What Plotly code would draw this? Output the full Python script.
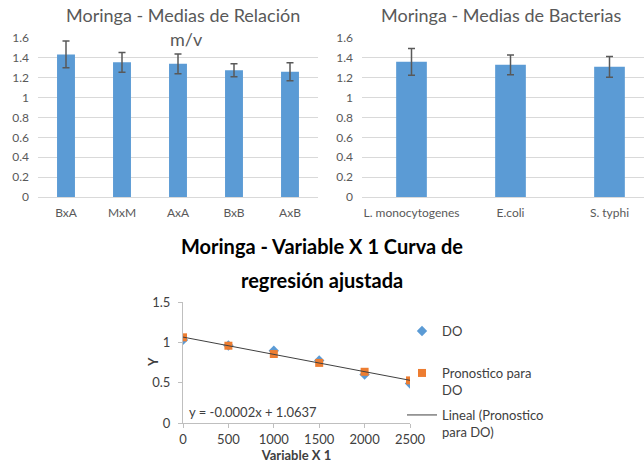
import plotly.graph_objects as go
import numpy as np

# --- data ---
rel_cats = ["BxA", "MxM", "AxA", "BxB", "AxB"]
rel_means = [1.435, 1.355, 1.34, 1.275, 1.26]
rel_err = [0.135, 0.10, 0.10, 0.065, 0.09]

bac_cats = ["L. monocytogenes", "E.coli", "S. typhi"]
bac_means = [1.36, 1.33, 1.31]
bac_err = [0.135, 0.10, 0.105]

reg_x = [0, 500, 1000, 1500, 2000, 2500]
do_y = [1.03, 0.96, 0.895, 0.775, 0.60, 0.49]
pron_y = [1.062, 0.958, 0.855, 0.745, 0.635, 0.528]

BLUE = "#5B9BD5"
ORANGE = "#ED7D31"
GRAY = "#595959"
DARK = "#404040"
GRID = "#D9D9D9"
FONT = "Lato, Liberation Sans, sans-serif"

W, H = 644, 466
def px(x): return x / W
def py(y): return 1 - y / H

fig = go.Figure()

fig.add_trace(go.Bar(x=rel_cats, y=rel_means, width=0.32, marker_color=BLUE,
                     error_y=dict(type="data", array=rel_err, color=GRAY, thickness=1.5, width=3.5),
                     xaxis="x", yaxis="y", showlegend=False))
fig.add_trace(go.Bar(x=bac_cats, y=bac_means, width=0.31, marker_color=BLUE,
                     error_y=dict(type="data", array=bac_err, color=GRAY, thickness=1.5, width=3.5),
                     xaxis="x2", yaxis="y2", showlegend=False))

fig.add_trace(go.Scatter(x=reg_x, y=do_y, mode="markers", name="DO",
                         marker=dict(symbol="diamond", size=8, color=BLUE),
                         xaxis="x3", yaxis="y3", legend="legend"))
fig.add_trace(go.Scatter(x=reg_x, y=pron_y, mode="markers", name="Pronostico para<br>DO",
                         marker=dict(symbol="square", size=8, color=ORANGE),
                         xaxis="x3", yaxis="y3", legend="legend2"))
slope, intercept = np.polyfit(reg_x, pron_y, 1)
trend_x = [reg_x[0], reg_x[-1]]
trend_y = [intercept + slope * v for v in trend_x]
fig.add_trace(go.Scatter(x=trend_x, y=trend_y, mode="lines", name="Lineal (Pronostico<br>para DO)",
                         line=dict(color=DARK, width=1),
                         xaxis="x3", yaxis="y3", legend="legend3"))

tick_font = dict(family=FONT, size=12, color=GRAY)
leg_common = dict(xanchor="left", yanchor="top", valign="top", itemwidth=30,
                  font=dict(family=FONT, size=13, color=DARK), bgcolor="rgba(0,0,0,0)")
leg_x = px(402)
fig.update_layout(
    template="none",
    width=W, height=H, margin=dict(l=0, r=0, t=0, b=0, autoexpand=False),
    paper_bgcolor="white", plot_bgcolor="white",
    font=dict(family=FONT, color=GRAY),
    xaxis=dict(domain=[px(38), px(318)], range=[-0.5, 4.5], showgrid=False, showline=False,
               ticks="", tickfont=tick_font, ticklabelstandoff=7, anchor="y", automargin=False,
               zeroline=False),
    yaxis=dict(domain=[py(197), py(38)], range=[0, 1.6], dtick=0.2, gridcolor=GRID, gridwidth=1,
               showline=False, zeroline=True, zerolinecolor=GRID, zerolinewidth=1, tickfont=tick_font,
               ticks="", ticklabelstandoff=8, tickformat="~g", anchor="x", automargin=False),
    xaxis2=dict(domain=[px(362), 1], range=[-0.5, (644 - 362) / 99 - 0.5], showgrid=False,
                showline=False, ticks="", tickfont=tick_font, ticklabelstandoff=7, anchor="y2",
                automargin=False, zeroline=False),
    yaxis2=dict(domain=[py(197), py(38)], range=[0, 1.6], dtick=0.2, gridcolor=GRID, gridwidth=1,
                showline=False, zeroline=True, zerolinecolor=GRID, zerolinewidth=1, tickfont=tick_font,
                ticks="", ticklabelstandoff=8, tickformat="~g", anchor="x2", automargin=False),
    xaxis3=dict(domain=[px(183), px(410)], range=[0, 2500], dtick=500, showgrid=False,
                showline=True, linecolor="#BFBFBF", linewidth=1, ticks="outside", ticklen=4,
                tickcolor="#BFBFBF", zeroline=False, tickfont=dict(family=FONT, size=13, color=DARK),
                title=dict(text="<b>Variable X 1</b>", font=dict(family=FONT, size=13, color=DARK),
                           standoff=2),
                anchor="y3", automargin=False),
    yaxis3=dict(domain=[py(423), py(302)], range=[0, 1.5], dtick=0.5, showgrid=False,
                showline=True, linecolor="#BFBFBF", linewidth=1, ticks="outside", ticklen=4,
                tickcolor="#BFBFBF", zeroline=False, tickfont=dict(family=FONT, size=13, color=DARK),
                ticklabelstandoff=5, anchor="x3", automargin=False),
    legend=dict(x=leg_x, y=py(316), **leg_common),
    legend2=dict(x=leg_x, y=py(358), **leg_common),
    legend3=dict(x=leg_x, y=py(400), **leg_common),
)

title_font = dict(family=FONT, size=18, color=GRAY)
for txt, x, y in [("Moringa - Medias de Relación", 183, 15), ("m/v", 186, 39),
                  ("Moringa - Medias de Bacterias", 501, 15)]:
    fig.add_annotation(text=txt, x=px(x), y=py(y), xref="paper", yref="paper",
                       xanchor="center", yanchor="middle", showarrow=False, font=title_font)
big_font = dict(family=FONT, size=20, color="black")
for txt, y in [("<b>Moringa - Variable X 1 Curva de</b>", 246), ("<b>regresión ajustada</b>", 280)]:
    fig.add_annotation(text=txt, x=px(322), y=py(y), xref="paper", yref="paper",
                       xanchor="center", yanchor="middle", showarrow=False, font=big_font)
fig.add_annotation(text="y = -0.0002x + 1.0637", x=px(187), y=py(412),
                   xref="paper", yref="paper", xanchor="left", yanchor="middle", showarrow=False,
                   font=dict(family=FONT, size=13, color=DARK))
fig.add_annotation(text="<b>Y</b>", x=px(153), y=py(362), xref="paper", yref="paper",
                   xanchor="center", yanchor="middle", showarrow=False, textangle=-90,
                   font=dict(family=FONT, size=13, color=DARK))

fig.write_html("out.html", config={"displayModeBar": False},
               post_script="document.body.style.margin='0px';")
